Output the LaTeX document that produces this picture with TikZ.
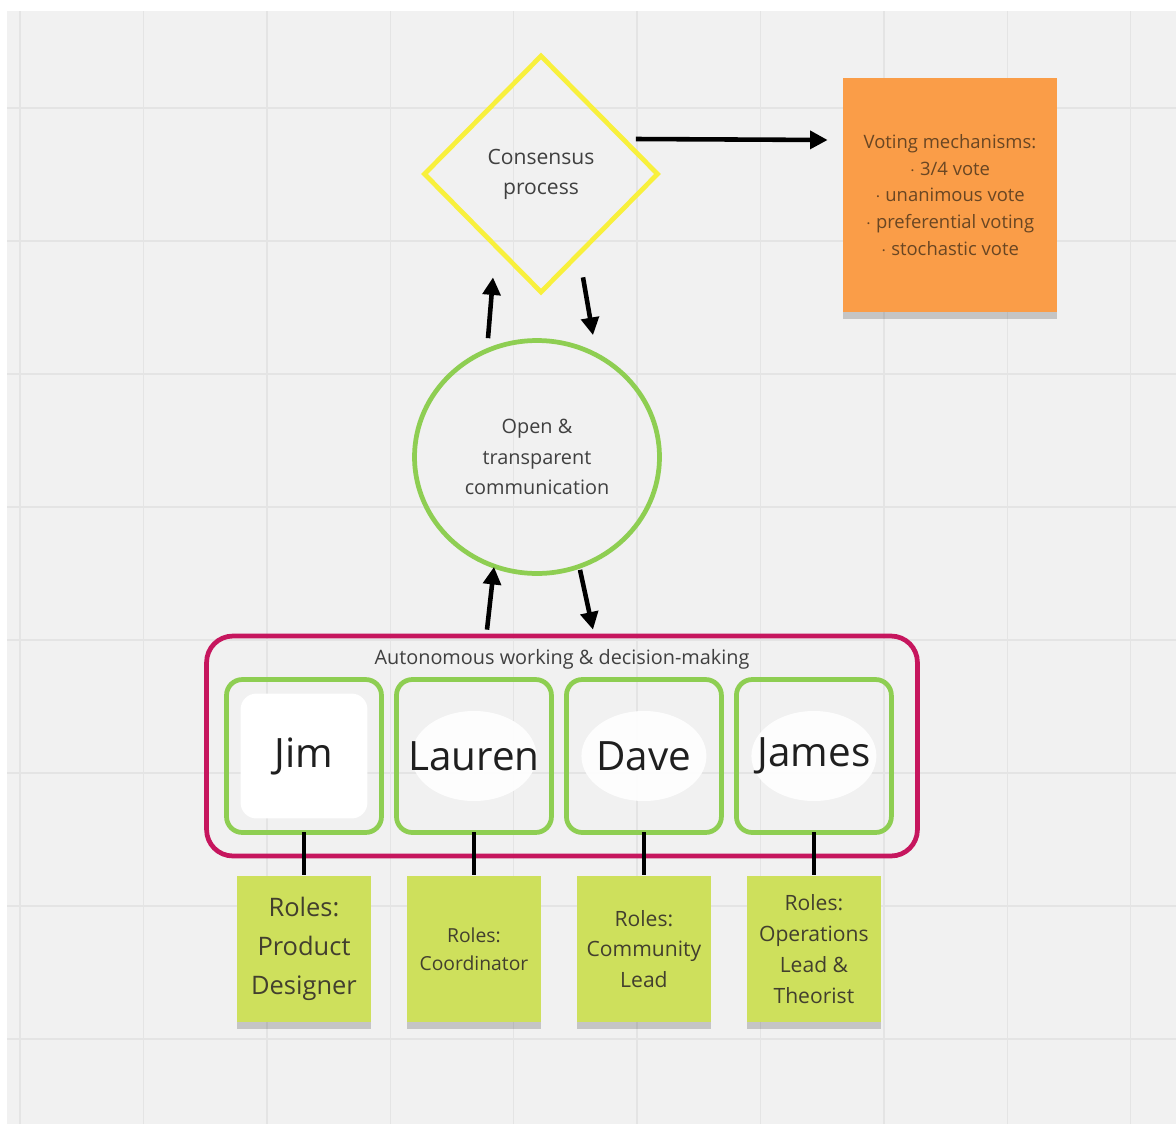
\documentclass[tikz,border=0pt]{standalone}
\usepackage{fontspec}
\setmainfont{Open Sans}
\usetikzlibrary{arrows.meta,calc,positioning,shapes.geometric,shadows}

\definecolor{boardgray}{RGB}{241,241,241}
\definecolor{gridgray}{RGB}{228,228,228}
\definecolor{ideayellow}{RGB}{248,240,60}
\definecolor{noteorange}{RGB}{250,157,72}
\definecolor{teamgreen}{RGB}{142,206,82}
\definecolor{teampink}{RGB}{198,22,94}
\definecolor{notelime}{RGB}{206,224,92}

\begin{document}
\begin{tikzpicture}[
  x=0.02cm, y=-0.02cm,
  font=\fontsize{11.3}{17.3}\selectfont, text=black!75,
  gridline/.style={draw=gridgray, line width=0.8pt},
  decision/.style={diamond, draw=ideayellow, line width=2.7pt, align=center, inner sep=0pt,
    minimum width=4.7cm, minimum height=4.76cm, font=\fontsize{12}{17}\selectfont},
  talk/.style={ellipse, draw=teamgreen, line width=2.7pt, align=center,
    minimum width=4.9cm, minimum height=4.66cm},
  sticky/.style={rectangle, align=center, inner sep=2pt,
    drop shadow={shadow xshift=0pt, shadow yshift=-4pt, opacity=.18, fill=black}},
  votenote/.style={sticky, fill=noteorange, minimum width=4.28cm, minimum height=4.68cm,
    text=brown!55!black, font=\fontsize{10.5}{15.3}\selectfont},
  rolenote/.style={sticky, fill=notelime, minimum width=2.68cm, minimum height=2.92cm,
    text=black!70!olive},
  groupbox/.style={draw=teampink, line width=2.7pt, rounded corners=15pt,
    minimum width=14.22cm, minimum height=4.4cm},
  person/.style={draw=teamgreen, line width=2.7pt, rounded corners=9pt,
    minimum width=3.1cm, minimum height=3.06cm, text=black!88, outer sep=0pt,
    font=\fontsize{23}{28}\selectfont,
    path picture={\fill[white, opacity=.92] (path picture bounding box.center) ellipse (1.25cm and 0.9cm);}},
  arr/.style={-{Triangle[length=10pt, width=10pt]}, line width=2.6pt, black},
  link/.style={line width=2.4pt, black}
]
\useasboundingbox (0,0) rectangle (1176,1126);

% board
\fill[boardgray] (7,11) rectangle (1176,1124);
\foreach \gx in {0,...,9}
  \draw[gridline] (20+123.4*\gx,11) -- (20+123.4*\gx,1124);
\foreach \gy in {0,...,7}
  \draw[gridline] (7,108+133*\gy) -- (1176,108+133*\gy);

% top: decision and voting
\node[decision] (consensus) at (541,174) {Consensus\\process};
\node[votenote] (vote) at (950,195) {Voting mechanisms:\\$\cdot$ 3/4 vote\\$\cdot$ unanimous vote\\$\cdot$ preferential voting\\$\cdot$ stochastic vote};
\draw[arr] ([shift={(-25,-35)}]consensus.east) -- ([shift={(-15,-55)}]vote.west);

% communication
\node[talk] (comm) at (537,457) {Open \&\\transparent\\communication};
\draw[arr] ([shift={(-49,0)}]comm.north) -- ([shift={(-48,-18)}]consensus.south);
\draw[arr] ([shift={(42,-18)}]consensus.south) -- ([shift={(56,-3)}]comm.north);

% team
\node[groupbox, label={[anchor=north, yshift=-0.2cm, text=black!75]north:Autonomous working \& decision-making}] (team) at (562,746) {};
\draw[arr] ([shift={(-75,-4)}]team.north) -- ([shift={(-43,-9)}]comm.south);
\draw[arr] ([shift={(43,-6)}]comm.south) -- ([shift={(31,-4)}]team.north);

\node[person, path picture={\fill[white] ([shift={(8pt,-8pt)}]path picture bounding box.north west) rectangle ([shift={(-8pt,8pt)}]path picture bounding box.south east);}] (jim) at (304,756) {Jim};
\node[person, right=0.3cm of jim] (lauren) {Lauren};
\node[person, right=0.3cm of lauren] (dave) {Dave};
\node[person, right=0.3cm of dave] (james) {James};

% roles
\node[rolenote, below=0.86cm of jim, font=\fontsize{14.5}{22.4}\selectfont] (jimrole) {Roles:\\Product\\Designer};
\node[rolenote, below=0.86cm of lauren, font=\fontsize{11}{16}\selectfont] (laurenrole) {Roles:\\Coordinator};
\node[rolenote, below=0.86cm of dave, font=\fontsize{12}{17.3}\selectfont] (daverole) {Roles:\\Community\\Lead};
\node[rolenote, below=0.86cm of james, font=\fontsize{12}{17.6}\selectfont] (jamesrole) {Roles:\\Operations\\Lead \&\\Theorist};

\draw[link] (jim) -- (jimrole);
\draw[link] (lauren) -- (laurenrole);
\draw[link] (dave) -- (daverole);
\draw[link] (james) -- (jamesrole);
\end{tikzpicture}
\end{document}
